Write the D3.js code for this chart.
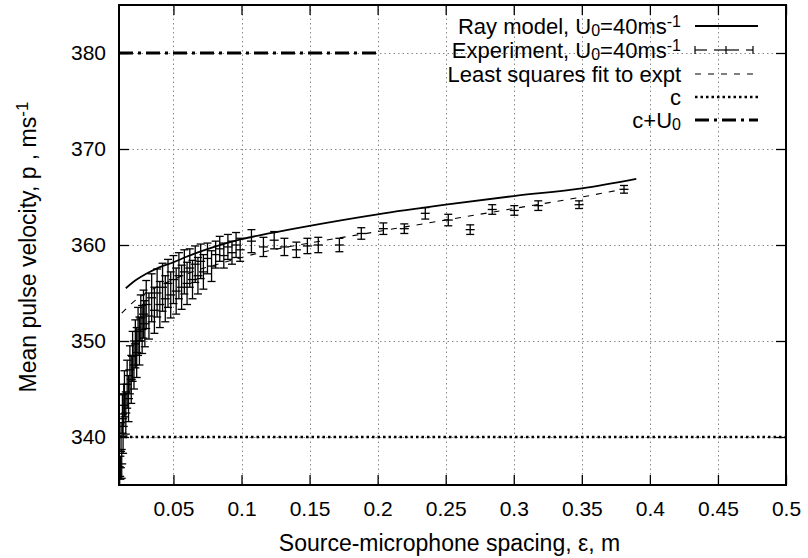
<!DOCTYPE html>
<html><head><meta charset="utf-8">
<script src="https://cdn.jsdelivr.net/npm/d3@7"></script>
<style>body{margin:0;background:#fff} text{font-family:"Liberation Sans",Arial,Helvetica,sans-serif;}</style>
</head><body><svg id="c" width="808" height="558"></svg>
<script>
// ---- data ----
const xTicks = [0.05,0.1,0.15,0.2,0.25,0.3,0.35,0.4,0.45,0.5];
const yTicks = [340,350,360,370,380];
const rayX = [0.015,0.02,0.03,0.04,0.05,0.06,0.08,0.1,0.12,0.15,0.2,0.25,0.3,0.35,0.39];
const rayY = [355.5,356.1,357.0,357.7,358.2,358.8,359.8,360.6,361.2,362.0,363.2,364.2,365.1,365.9,366.9];
const fitX = [0.012,0.02,0.03,0.04,0.05,0.06,0.07,0.08,0.09,0.1,0.12,0.15,0.2,0.25,0.3,0.35,0.38];
const fitY = [352.9,354.0,355.0,355.8,356.4,357.0,357.5,357.9,358.3,358.7,359.4,360.2,361.4,362.6,363.8,365.0,365.8];
const expX = [0.0105,0.011,0.0115,0.012,0.0125,0.013,0.0135,0.014,0.015,0.016,0.017,0.018,0.019,0.020,0.021,0.022,0.023,0.024,0.025,0.026,0.027,0.028,0.029,0.030,0.032,0.034,0.036,0.038,0.040,0.042,0.044,0.046,0.048,0.050,0.052,0.054,0.056,0.058,0.060,0.062,0.064,0.066,0.068,0.070,0.072,0.075,0.078,0.081,0.084,0.087,0.090,0.093,0.096,0.099,
  0.1073,0.1161,0.124,0.1315,0.1403,0.1484,0.1564,0.1719,0.188,0.2042,0.2196,0.235,0.2519,0.268,0.2842,0.3004,0.318,0.348,0.381];
const expY = [335.9,336.8,340.0,337.2,342.4,340.1,343.3,344.5,342.5,345.5,344.0,347.0,346.0,348.4,347.5,349.7,348.8,351.0,350.0,352.4,351.2,352.8,351.8,353.8,352.6,354.5,353.2,355.0,353.8,355.6,354.4,356.0,354.8,356.4,355.2,356.8,355.6,357.2,356.0,357.6,356.4,358.0,356.8,358.3,357.2,358.6,357.8,359.0,359.6,358.9,359.8,359.2,360.0,359.5,
  360.4,359.8,360.5,359.8,359.5,359.9,360.0,360.0,361.2,361.7,361.7,363.3,362.6,361.6,363.7,363.6,364.1,364.2,365.8];
const expErr = [1.0,1.2,1.5,1.5,2.0,1.8,2.2,2.4,2.2,2.5,2.4,2.5,2.5,2.6,2.5,2.5,2.6,2.5,2.5,2.4,2.5,2.5,2.4,2.5,2.4,2.5,2.4,2.5,2.4,2.5,2.4,2.5,2.4,2.5,2.4,2.4,2.3,2.3,2.2,2.0,2.0,1.9,1.9,1.8,1.8,1.6,1.6,1.4,1.3,1.3,1.3,1.2,1.3,1.2,
  1.2,1.0,0.9,0.9,0.8,0.8,0.8,0.7,0.6,0.6,0.5,0.6,0.6,0.5,0.5,0.5,0.5,0.4,0.4];
const cSpeed = 340;
const cPlusU = 380, cPlusUEnd = 0.2;
const xLabel = "Source-microphone spacing, \u03b5, m";

// ---- layout ----
const svg = d3.select("#c");
const L = 119, R = 786, T = 5, B = 485;
const x = d3.scaleLinear().domain([0.01,0.5]).range([L,R]);
const y = d3.scaleLinear().domain([335,385]).range([B,T]);

svg.append("defs").append("clipPath").attr("id","clip")
  .append("rect").attr("x",L).attr("y",T).attr("width",R-L).attr("height",B-T);

// grid
const grid = svg.append("g").attr("stroke","#888").attr("stroke-width",1).attr("stroke-dasharray","1.5,3");
grid.selectAll("line.gx").data(xTicks.filter(d=>d<0.5)).join("line")
  .attr("x1",d=>Math.round(x(d))+0.5).attr("x2",d=>Math.round(x(d))+0.5).attr("y1",T).attr("y2",B);
grid.selectAll("line.gy").data(yTicks).join("line")
  .attr("y1",d=>Math.round(y(d))+0.5).attr("y2",d=>Math.round(y(d))+0.5).attr("x1",L).attr("x2",R);

// axes
const fs = 23, tfs = 21, lfs = 22;
const ax = svg.append("g").attr("transform",`translate(0,${B})`)
  .call(d3.axisBottom(x).tickValues(xTicks).tickSize(-10).tickPadding(16).tickFormat(d3.format("")));
const ay = svg.append("g").attr("transform",`translate(${L},0)`)
  .call(d3.axisLeft(y).tickValues(yTicks).tickSize(-10).tickPadding(13));
const at = svg.append("g").attr("transform",`translate(0,${T})`)
  .call(d3.axisTop(x).tickValues(xTicks).tickSize(-10).tickFormat(""));
const ar = svg.append("g").attr("transform",`translate(${R},0)`)
  .call(d3.axisRight(y).tickValues(yTicks).tickSize(-10).tickFormat(""));
[ax,ay,at,ar].forEach(g=>{
  g.select(".domain").remove();
  g.selectAll(".tick line").attr("stroke","#000").attr("stroke-width",1.3);
  g.selectAll(".tick text").attr("font-size",tfs).attr("fill","#000")
   .attr("font-family",'"Liberation Sans",Arial,sans-serif');
});

const plot = svg.append("g").attr("clip-path","url(#clip)");

// c line
plot.append("line").attr("x1",x(0.01)).attr("x2",x(0.5)).attr("y1",y(cSpeed)).attr("y2",y(cSpeed))
  .attr("stroke","#000").attr("stroke-width",2.6).attr("stroke-dasharray","2.5,3");
// c+U0 line
plot.append("line").attr("x1",x(0.01)).attr("x2",x(cPlusUEnd)).attr("y1",y(cPlusU)).attr("y2",y(cPlusU))
  .attr("stroke","#000").attr("stroke-width",3).attr("stroke-dasharray","14,5,3,5");

// ray model
const line = d3.line().x(d=>x(d[0])).y(d=>y(d[1])).curve(d3.curveMonotoneX);
plot.append("path").datum(d3.zip(rayX,rayY)).attr("d",line)
  .attr("fill","none").attr("stroke","#000").attr("stroke-width",1.8);
// fit
plot.append("path").datum(d3.zip(fitX,fitY)).attr("d",line)
  .attr("fill","none").attr("stroke","#000").attr("stroke-width",1.1).attr("stroke-dasharray","6,7");

// experiment error bars
const exp = d3.zip(expX,expY,expErr);
const eg = plot.append("g").attr("stroke","#000").attr("stroke-width",1.3);
const cw = 4, pw = 4.5;
exp.forEach(([xv,yv,e])=>{
  const px = x(xv), y1 = y(yv-e), y2 = y(yv+e), py = y(yv);
  eg.append("line").attr("x1",px).attr("x2",px).attr("y1",y1).attr("y2",y2);
  eg.append("line").attr("x1",px-cw).attr("x2",px+cw).attr("y1",y1).attr("y2",y1);
  eg.append("line").attr("x1",px-cw).attr("x2",px+cw).attr("y1",y2).attr("y2",y2);
  eg.append("line").attr("x1",px-pw).attr("x2",px+pw).attr("y1",py).attr("y2",py);
});

// frame
svg.append("rect").attr("x",L).attr("y",T).attr("width",R-L).attr("height",B-T)
  .attr("fill","none").attr("stroke","#000").attr("stroke-width",2);

// labels
svg.append("text").attr("x",(L+R)/2-3).attr("y",551).attr("text-anchor","middle")
  .attr("font-size",fs).text(xLabel);
const yl = svg.append("text").attr("transform",`translate(36,247) rotate(-90)`)
  .attr("text-anchor","middle").attr("font-size",fs);
yl.append("tspan").text("Mean pulse velocity, p , ms");
yl.append("tspan").attr("dy",-8).attr("font-size",17).text("-1");

// legend
const lg = svg.append("g");
const tx = 681, s1 = 695, s2 = 758;
const rows = [26,50,74,97,120];
function addText(yy, parts){
  const t = lg.append("text").attr("x",tx).attr("y",yy+8).attr("text-anchor","end").attr("font-size",lfs);
  let shift = 0;
  parts.forEach(p=>{
    const target = p.sub ? 2 : (p.sup ? -7 : 0);
    const sp = t.append("tspan").attr("dy",target-shift).text(p.t);
    if (p.sub||p.sup) sp.attr("font-size",16);
    shift = target;
  });
}
addText(rows[0],[{t:"Ray model, U"},{t:"0",sub:1},{t:"=40ms"},{t:"-1",sup:1}]);
addText(rows[1],[{t:"Experiment, U"},{t:"0",sub:1},{t:"=40ms"},{t:"-1",sup:1}]);
addText(rows[2],[{t:"Least squares fit to expt"}]);
addText(rows[3],[{t:"c"}]);
addText(rows[4],[{t:"c+U"},{t:"0",sub:1}]);

lg.append("line").attr("x1",s1).attr("x2",s2).attr("y1",rows[0]).attr("y2",rows[0])
  .attr("stroke","#000").attr("stroke-width",1.8);
const e2 = lg.append("g").attr("stroke","#000").attr("stroke-width",1.2);
const ym = rows[1];
[[s1,s1+12],[s1+19,s1+44],[s1+51,s2-5]].forEach(([a,b])=>{
  e2.append("line").attr("x1",a).attr("x2",b).attr("y1",ym).attr("y2",ym);
});
[s1, s2-5].forEach(px=>e2.append("line").attr("x1",px).attr("x2",px).attr("y1",ym-4).attr("y2",ym+4));
e2.append("line").attr("x1",s1+31).attr("x2",s1+31).attr("y1",ym-4).attr("y2",ym+4);
lg.append("line").attr("x1",s1).attr("x2",s2).attr("y1",rows[2]).attr("y2",rows[2])
  .attr("stroke","#000").attr("stroke-width",1.1).attr("stroke-dasharray","6,7");
lg.append("line").attr("x1",s1).attr("x2",s2).attr("y1",rows[3]).attr("y2",rows[3])
  .attr("stroke","#000").attr("stroke-width",2.6).attr("stroke-dasharray","2.5,3");
lg.append("line").attr("x1",s1).attr("x2",s2).attr("y1",rows[4]).attr("y2",rows[4])
  .attr("stroke","#000").attr("stroke-width",3).attr("stroke-dasharray","14,5,3,5");
</script></body></html>
